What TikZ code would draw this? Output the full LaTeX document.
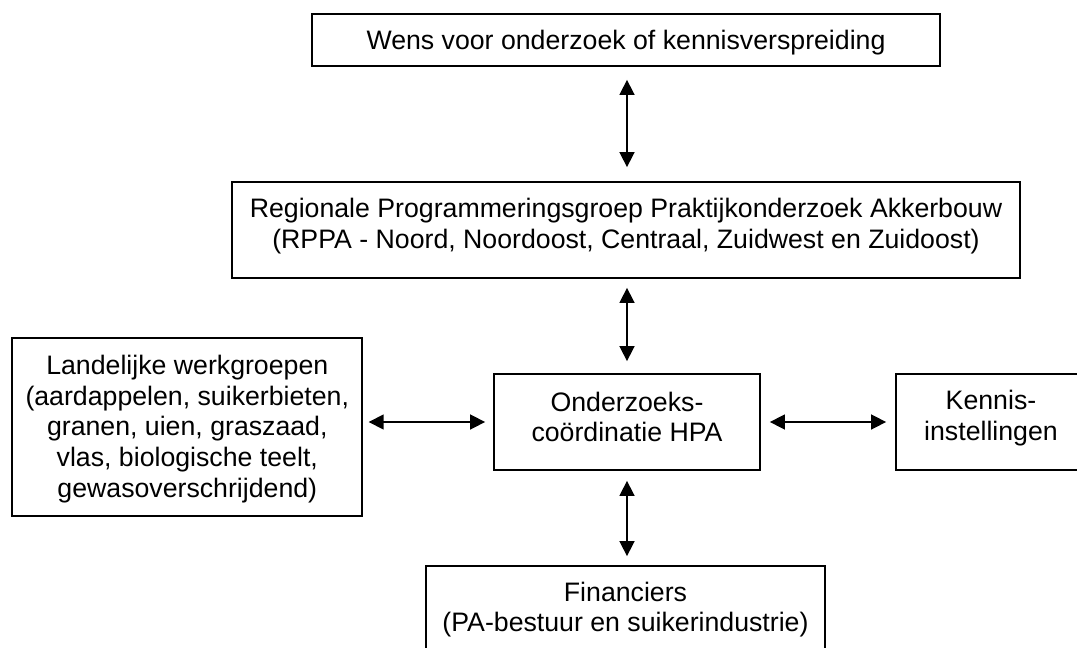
\documentclass[tikz,border=0pt]{standalone}
\usepackage{fontspec}
\setmainfont{Liberation Sans}
\usetikzlibrary{arrows.meta}
\begin{document}
\begin{tikzpicture}[x=1pt,y=-1pt,
  box/.style={draw=black, line width=1.8pt, inner sep=0pt},
  txt/.style={inner sep=0pt, align=center, font=\fontsize{26.7}{30.7}\selectfont},
  biarrow/.style={line width=1.6pt,
     {Triangle[length=15pt,width=15pt]}-{Triangle[length=15pt,width=15pt]}}]
\useasboundingbox (0,0) rectangle (1077,648);
% boxes
\node[box, minimum width=628pt, minimum height=52pt] (wens) at (626,40) {};
\node[box, minimum width=788pt, minimum height=96pt] (rppa) at (626,230) {};
\node[box, minimum width=350pt, minimum height=178pt] (land) at (187.3,427) {};
\node[box, minimum width=266pt, minimum height=96pt] (ond) at (627,422) {};
\node[box, minimum width=190pt, minimum height=96pt] (kenn) at (991,422) {};
\node[box, minimum width=399pt, minimum height=96pt] (fin) at (625.5,614) {};
% texts
\node[txt] (wenst) at ([yshift=-2.5pt]wens.center) {Wens voor onderzoek of kennisverspreiding};
\node[txt] (rppat) at ([yshift=4pt]rppa.center)
  {Regionale Programmeringsgroep Praktijkonderzoek Akkerbouw\\(RPPA - Noord, Noordoost, Centraal, Zuidwest en Zuidoost)};
\node[txt] (landt) at ([yshift=-2pt]land.center)
  {Landelijke werkgroepen\\(aardappelen, suikerbieten,\\granen, uien, graszaad,\\vlas, biologische teelt,\\gewasoverschrijdend)};
\node[txt] (ondt) at ([yshift=5pt]ond.center) {Onderzoeks-\\coördinatie HPA};
\node[txt] (kennt) at ([yshift=4pt]kenn.center) {Kennis-\\instellingen};
\node[txt] (fint) at ([yshift=4.5pt]fin.center) {Financiers\\(PA-bestuur en suikerindustrie)};
% connectors
\draw[biarrow, shorten <=13pt, shorten >=14pt] (wens.south -| ond.center) -- (rppa.north -| ond.center);
\draw[biarrow, shorten <=9pt, shorten >=12pt] (rppa.south -| ond.center) -- (ond.north);
\draw[biarrow, shorten <=10pt, shorten >=9pt] (ond.south) -- (fin.north -| ond.center);
\draw[biarrow, shorten <=5.5pt, shorten >=8pt] (land.east |- ond.west) -- (ond.west);
\draw[biarrow, shorten <=9pt, shorten >=9pt] (ond.east) -- (kenn.west);
\end{tikzpicture}
\end{document}
